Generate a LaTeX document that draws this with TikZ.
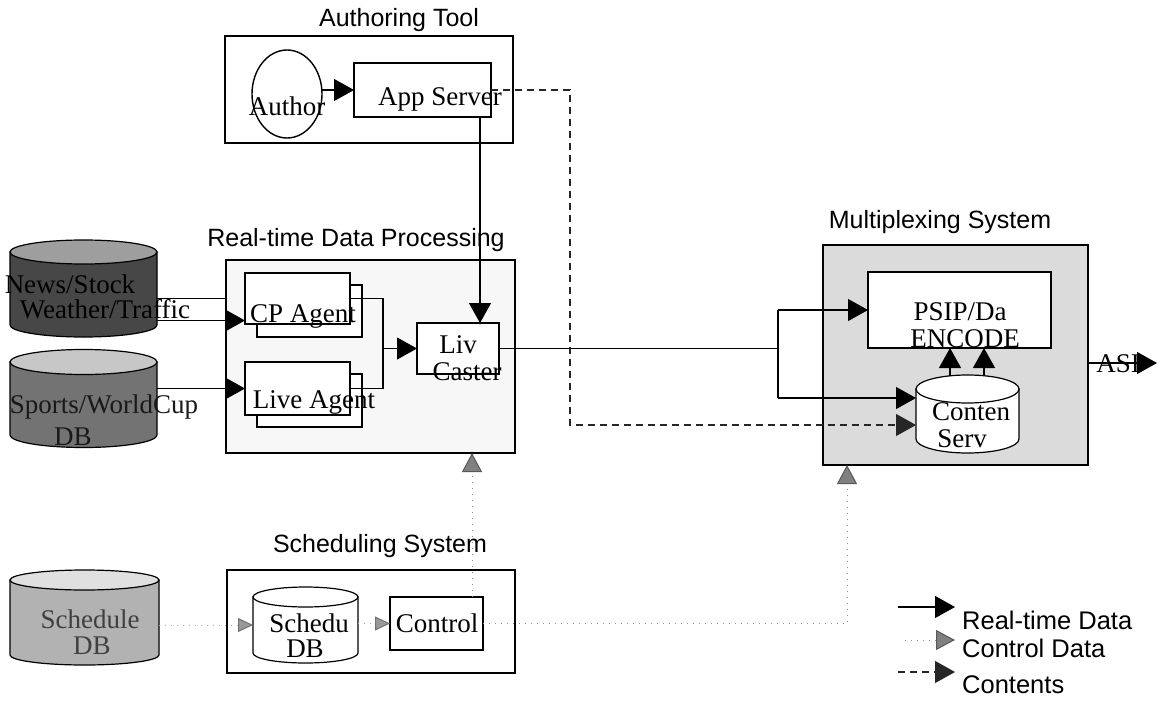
\documentclass[tikz,border=0pt]{standalone}
\usepackage{fontspec}
\setmainfont{Liberation Serif}
\newfontfamily\labelsans{Liberation Sans}
\usetikzlibrary{arrows.meta,shapes.geometric}

\tikzset{
  frame/.style={draw, line width=1.4pt, inner sep=0pt, outer sep=0pt},
  unit/.style={frame, fill=white},
  body/.style={inner sep=0pt, outer sep=0pt},
  txt/.style={inner sep=0pt, outer sep=0pt, anchor=base, font=\fontsize{27}{30}\selectfont},
  ttl/.style={inner sep=0pt, font=\labelsans\fontsize{25}{28}\selectfont},
  legtxt/.style={inner sep=0pt, anchor=west, font=\labelsans\fontsize{25.5}{28}\selectfont},
  realtime/.style={line width=1.1pt, -{Triangle[length=20pt,width=22pt]}},
  contents/.style={line width=1.1pt, black!85, dash pattern=on 7pt off 5pt,
                   -{Triangle[length=20pt,width=22pt]}},
  control/.style={line width=1pt, black!45, dash pattern=on 1pt off 5pt,
                  -{Triangle[length=19pt,width=20pt,fill=black!50,color=black!65]}},
  ctlsmall/.style={line width=1pt, black!35, dash pattern=on 1pt off 5pt,
                   -{Triangle[length=15pt,width=14pt,fill=black!40,color=black!55]}},
}

% drum (database) outline around a body node: name, body fill, top fill, x radius, y radius
\newcommand\drumat[5]{%
  \path[draw, line width=1.2pt, fill=#2]
    (#1.north west) -- (#1.south west)
    arc[start angle=180, end angle=360, x radius=#4pt, y radius=#5pt]
    -- (#1.north east) -- cycle;
  \path[draw, line width=1.2pt, fill=#3] (#1.north) ellipse[x radius=#4pt, y radius=#5pt];
}

\begin{document}
\begin{tikzpicture}[x=1pt, y=-1pt]
\useasboundingbox[fill=white] (0,0) rectangle (1164,709);

% ---------- Authoring tool ----------
\node[frame, fill=white, minimum width=288pt, minimum height=107pt] (authbox) at (369,89.5) {};
\node[draw, ellipse, line width=1.4pt, inner sep=0pt, outer sep=0pt,
      minimum width=70pt, minimum height=88pt] (author) at (287,94) {};
\node[unit, minimum width=137pt, minimum height=54pt] (appsrv) at (422.5,90) {};

% ---------- Real-time data processing ----------
\node[frame, fill=black!3, minimum width=289pt, minimum height=193pt] (rtbox) at (370.5,356.5) {};
\node[unit, minimum width=105pt, minimum height=52pt] (cpback) at (309.5,311) {};
\node[unit, minimum width=105pt, minimum height=51pt] (cp) at (297.5,298.5) {};
\node[unit, minimum width=105pt, minimum height=53pt] (liveback) at (309.5,400.5) {};
\node[unit, minimum width=105pt, minimum height=53pt] (live) at (297.5,388.5) {};
\node[unit, minimum width=82pt, minimum height=51pt] (liv) at (458,348.5) {};

% ---------- Multiplexing system ----------
\node[frame, fill=black!14, minimum width=265pt, minimum height=220pt] (mux) at (955.5,355) {};
\node[unit, minimum width=183pt, minimum height=76pt] (psip) at (959.5,310) {};
\node[body, minimum width=103pt, minimum height=50pt] (csrv) at (967.5,414) {};
\drumat{csrv}{white}{white}{51.5}{14}

% ---------- Scheduling system ----------
\node[frame, fill=white, minimum width=288pt, minimum height=103pt] (schedbox) at (371,621.5) {};
\node[body, minimum width=105pt, minimum height=56pt] (sdb) at (305.5,625) {};
\drumat{sdb}{white}{white}{52.5}{10}
\node[unit, minimum width=93pt, minimum height=53pt] (ctrl) at (436.5,623.5) {};

% ---------- Source databases ----------
\node[body, minimum width=147pt, minimum height=73pt] (db1) at (83.5,288.5) {};
\drumat{db1}{black!72}{black!38}{73.5}{12}
\node[body, minimum width=147pt, minimum height=73pt] (db2) at (83.5,398.5) {};
\drumat{db2}{black!55}{black!22}{73.5}{12.5}
\node[body, minimum width=149pt, minimum height=75pt] (db3) at (84.5,617.5) {};
\drumat{db3}{black!30}{black!12}{74.5}{10}

% ---------- helper coordinates ----------
\coordinate (drop)  at (480,0);
\coordinate (merge) at (383,0);
\coordinate (split) at (778,0);
\coordinate (cbend) at (570,425);
\coordinate (cturn) at (847,0);
\coordinate (cup)   at (472,0);
\coordinate (asi)   at (1157,363);
\coordinate (cpin)  at ([yshift=-22pt]cp.west);
\coordinate (csin)  at ([yshift=16pt]csrv.west);
\coordinate (ua)    at ([xshift=-17.5pt,yshift=13pt]csrv.north);
\coordinate (ub)    at ([xshift=16.5pt,yshift=13pt]csrv.north);

% ---------- real-time data ----------
\draw[realtime] (author.east |- appsrv.west) -- (appsrv.west);
\draw[realtime] (appsrv.south -| drop) -- (liv.north -| drop);
\draw[line width=1.1pt] (db1.east |- cp.west) -- (rtbox.west |- cp.west);
\draw[realtime] (db1.east |- cpin) -- (cpin);
\draw[realtime] (db2.east |- live.west) -- (live.west);
\draw[line width=1.1pt] (cp.east) -- (cp.east -| merge) -- (live.east -| merge) -- (live.east);
\draw[realtime] (liv.west -| merge) -- (liv.west);
\draw[line width=1.1pt] (liv.east) -- (liv.east -| split);
\draw[line width=1.1pt] (psip.west -| split) -- (csin -| split);
\draw[realtime] (psip.west -| split) -- (psip.west);
\draw[realtime] (csin -| split) -- (csin);
\draw[realtime] (ua) -- (ua |- psip.south);
\draw[realtime] (ub) -- (ub |- psip.south);
\draw[realtime] (mux.east |- asi) -- (asi);

% ---------- contents ----------
\draw[contents] (appsrv.east) -| (cbend) -- (cbend -| csrv.west);

% ---------- control data ----------
\draw[ctlsmall] (db3.east |- sdb.west) -- (sdb.west);
\draw[ctlsmall] (sdb.east |- ctrl.west) -- (ctrl.west);
\draw[control] (ctrl.north -| cup) -- (rtbox.south -| cup);
\draw[control] (ctrl.east) -| (cturn |- mux.south);

% ---------- titles ----------
\node[ttl] (t1) at (399,20)  {Authoring Tool};
\node[ttl] (t2) at (356,240) {Real-time Data Processing};
\node[ttl] (t3) at (940,222) {Multiplexing System};
\node[ttl] (t4) at (380,546) {Scheduling System};

% ---------- labels ----------
\node[txt] (l1)  at (287,115) {Author};
\node[txt] (l2)  at (440,105) {App Server};
\node[txt] (l3)  at (303,322) {CP Agent};
\node[txt] (l4)  at (314,408) {Live Agent};
\node[txt] (l5)  at (458,353) {Liv};
\node[txt] (l6)  at (467,380) {Caster};
\node[txt] (l7)  at (960,320) {PSIP/Da};
\node[txt] (l8)  at (965,347) {ENCODE};
\node[txt] (l9)  at (971,420) {Conten};
\node[txt] (l10) at (962,447) {Serv};
\node[txt] (l11) at (309,632) {Schedu};
\node[txt] (l12) at (305,657) {DB};
\node[txt] (l13) at (437,632) {Control};
\node[txt, text=black!75] (l14) at (90,628) {Schedule};
\node[txt, text=black!75] (l15) at (92,654) {DB};
\node[txt, text=black!90] (l16) at (104,413) {Sports/WorldCup};
\node[txt, text=black!90] (l17) at (73,445)  {DB};
\node[txt] (l18) at (70,293)  {News/Stock};
\node[txt] (l19) at (105,318) {Weather/Traffic};
\node[txt] (l20) at (1118,372) {ASI};

% ---------- legend ----------
\coordinate (ka) at (898,607);  \coordinate (kb) at (955,607);
\coordinate (kc) at (905,640);  \coordinate (kd) at (955,640);
\coordinate (ke) at (898,672);  \coordinate (kf) at (955,672);
\draw[realtime] (ka) -- (kb);
\draw[control]  (kc) -- (kd);
\draw[contents] (ke) -- (kf);
\node[legtxt] (g1) at (962,620) {Real-time Data};
\node[legtxt] (g2) at (962,648) {Control Data};
\node[legtxt] (g3) at (962,685) {Contents};
\end{tikzpicture}
\end{document}
